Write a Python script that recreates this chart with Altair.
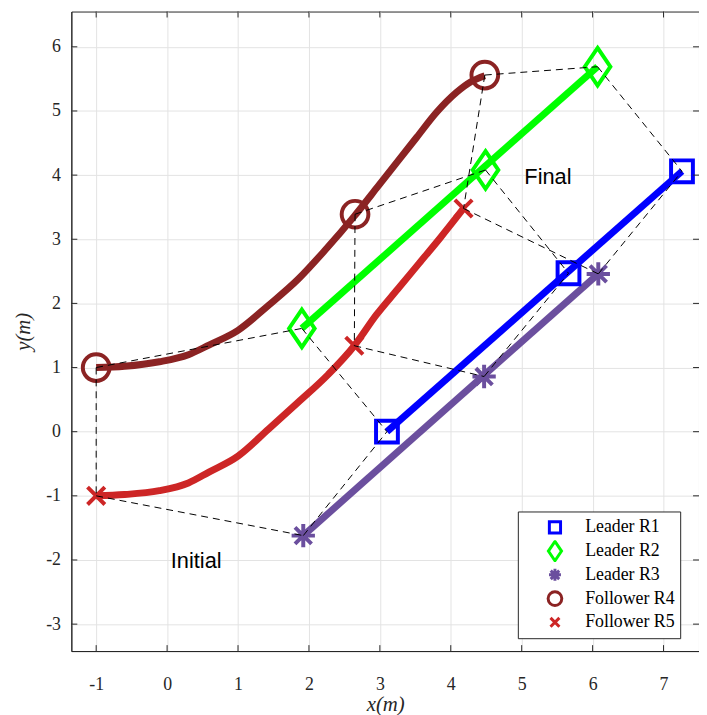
import altair as alt
import pandas as pd

# ---------------- data ----------------
series = ["Leader R1", "Leader R2", "Leader R3", "Follower R4", "Follower R5"]
colors = ["#0000ff", "#00ff00", "#6b4f9e", "#8b2323", "#cd2626"]
# marker outlines (relative sizes kept inside the paths)
shapes = [
    "M-0.58,-0.58H0.58V0.58H-0.58Z",
    "M0,-1L0.68,0L0,1L-0.68,0Z",
    "M0,-0.62V0.62M-0.62,0H0.62M-0.44,-0.44L0.44,0.44M-0.44,0.44L0.44,-0.44",
    "M0.71,0A0.71,0.71,0,1,1,-0.71,0A0.71,0.71,0,1,1,0.71,0Z",
    "M-0.46,-0.46L0.46,0.46M-0.46,0.46L0.46,-0.46",
]

# marker positions: initial, intermediate, final
r1_mx = [3.10, 5.66, 7.26]
r1_my = [0.00, 2.47, 4.06]
r2_mx = [1.90, 4.49, 6.07]
r2_my = [1.61, 4.08, 5.69]
r3_mx = [1.92, 4.47, 6.08]
r3_my = [-1.62, 0.86, 2.46]
r4_mx = [-1.00, 2.65, 4.48]
r4_my = [1.00, 3.39, 5.56]
r5_mx = [-1.00, 2.64, 4.18]
r5_my = [-1.00, 1.34, 3.48]

# trajectories
r1_px = [3.10, 7.26]
r1_py = [0.00, 4.06]
r2_px = [1.90, 6.07]
r2_py = [1.61, 5.69]
r3_px = [1.92, 6.08]
r3_py = [-1.62, 2.46]
r4_px = [-1.00, -0.60, -0.11, 0.30, 0.59, 1.00, 1.43, 1.85, 2.22, 2.64, 2.97, 3.24, 3.52, 3.80, 4.08, 4.29, 4.48]
r4_py = [1.00, 1.02, 1.09, 1.20, 1.35, 1.58, 1.97, 2.38, 2.82, 3.36, 3.82, 4.20, 4.59, 4.98, 5.29, 5.46, 5.55]
r5_px = [-1.00, -0.60, -0.11, 0.30, 0.59, 1.00, 1.43, 1.85, 2.27, 2.64, 2.95, 3.25, 3.55, 3.85, 4.18]
r5_py = [-1.00, -0.98, -0.92, -0.80, -0.63, -0.38, 0.04, 0.46, 0.89, 1.34, 1.82, 2.22, 2.62, 3.02, 3.48]

# formation edges (indices into series)
edges = [(3, 4), (3, 1), (4, 2), (1, 0), (2, 0)]

x_ticks = [-1, 0, 1, 2, 3, 4, 5, 6, 7]
y_ticks = [-3, -2, -1, 0, 1, 2, 3, 4, 5, 6]
x_domain = [-1.35, 7.5]
y_domain = [-3.42, 6.55]

annot_text = ["Final", "Initial"]
annot_x = [5.37, 0.41]
annot_y = [3.97, -2.01]

# ---------------- tables ----------------
mxs = [r1_mx, r2_mx, r3_mx, r4_mx, r5_mx]
mys = [r1_my, r2_my, r3_my, r4_my, r5_my]
pxs = [r1_px, r2_px, r3_px, r4_px, r5_px]
pys = [r1_py, r2_py, r3_py, r4_py, r5_py]

markers = pd.DataFrame(
    [{"series": s, "x": mxs[k][j], "y": mys[k][j]} for k, s in enumerate(series) for j in range(3)]
)
paths = pd.DataFrame(
    [{"series": s, "col": colors[k], "i": j, "x": pxs[k][j], "y": pys[k][j]}
     for k, s in enumerate(series) for j in range(len(pxs[k]))]
)
segs = pd.DataFrame(
    [{"x": mxs[a][j], "y": mys[a][j], "x2": mxs[b][j], "y2": mys[b][j]}
     for j in range(3) for (a, b) in edges]
)
annots = pd.DataFrame({"t": annot_text, "x": annot_x, "y": annot_y})

W, H = 634, 646
AX = "#262626"
SERIF = "Liberation Serif"

xs = alt.Scale(domain=x_domain, nice=False, zero=False)
ys = alt.Scale(domain=y_domain, nice=False, zero=False)
lab = "'' + datum.value"
xaxis = alt.Axis(values=x_ticks, title="x(m)", labelExpr=lab)
yaxis = alt.Axis(values=y_ticks, title="y(m)", labelExpr=lab)


def X(f="x"):
    return alt.X(f"{f}:Q", scale=xs, axis=xaxis)


def Y(f="y"):
    return alt.Y(f"{f}:Q", scale=ys, axis=yaxis)


def LEG():
    return alt.Legend(orient="none", legendX=451, legendY=505, title=None)


lines = alt.Chart(paths).mark_line(strokeWidth=7, strokeCap="butt", interpolate="monotone").encode(
    x=X(), y=Y(),
    stroke=alt.Stroke("col:N", scale=None),
    detail="series:N",
    order="i:Q",
)

points = alt.Chart(markers).mark_point(filled=False, strokeWidth=4, opacity=1, size=1444).encode(
    x=X(), y=Y(),
    color=alt.Color("series:N", scale=alt.Scale(domain=series, range=colors), legend=LEG()),
    shape=alt.Shape("series:N", scale=alt.Scale(domain=series, range=shapes), legend=LEG()),
)

dashes = alt.Chart(segs).mark_rule(color="black", strokeWidth=1, strokeDash=[7, 5]).encode(
    x=X(), y=Y(), x2="x2:Q", y2="y2:Q"
)

texts = alt.Chart(annots).mark_text(font="Liberation Sans", fontSize=22, color="black").encode(
    x=X(), y=Y(), text="t:N"
)

xt = pd.DataFrame({"t": x_ticks})
yt = pd.DataFrame({"t": y_ticks})
tick_b = alt.Chart(xt).mark_rule(color=AX, strokeWidth=1).encode(
    x=X("t"), y=alt.value(H), y2=alt.value(H - 6))
tick_t = alt.Chart(xt).mark_rule(color=AX, strokeWidth=1).encode(
    x=X("t"), y=alt.value(0), y2=alt.value(6))
tick_l = alt.Chart(yt).mark_rule(color=AX, strokeWidth=1).encode(
    y=Y("t"), x=alt.value(0), x2=alt.value(6))
tick_r = alt.Chart(yt).mark_rule(color=AX, strokeWidth=1).encode(
    y=Y("t"), x=alt.value(W), x2=alt.value(W - 6))

chart = alt.layer(lines, points, dashes, texts, tick_b, tick_t, tick_l, tick_r).properties(
    width=W, height=H,
    autosize=alt.AutoSizeParams(type="none"),
    padding={"left": 64, "top": 0, "right": 0, "bottom": 61},
).configure_view(
    stroke=AX, strokeWidth=1
).configure_axis(
    ticks=False,
    grid=True, gridColor="#e3e3e3", gridWidth=1,
    domainColor=AX, domainWidth=1,
    labelFont=SERIF, labelFontSize=18, labelColor=AX,
    titleFont=SERIF, titleFontSize=21, titleFontStyle="italic", titleFontWeight="normal",
    titleColor=AX,
).configure_axisX(
    labelPadding=25, titlePadding=0,
).configure_axisY(
    labelPadding=11, titlePadding=12,
).configure_legend(
    strokeColor=AX, fillColor="white", padding=5,
    symbolOffset=21, labelOffset=19, rowPadding=2, gridAlign="all", clipHeight=22,
    labelFont=SERIF, labelFontSize=18, labelColor="black",
    symbolSize=380, symbolStrokeWidth=3,
)

chart.save("out.html", embed_options={"renderer": "svg", "actions": False})
